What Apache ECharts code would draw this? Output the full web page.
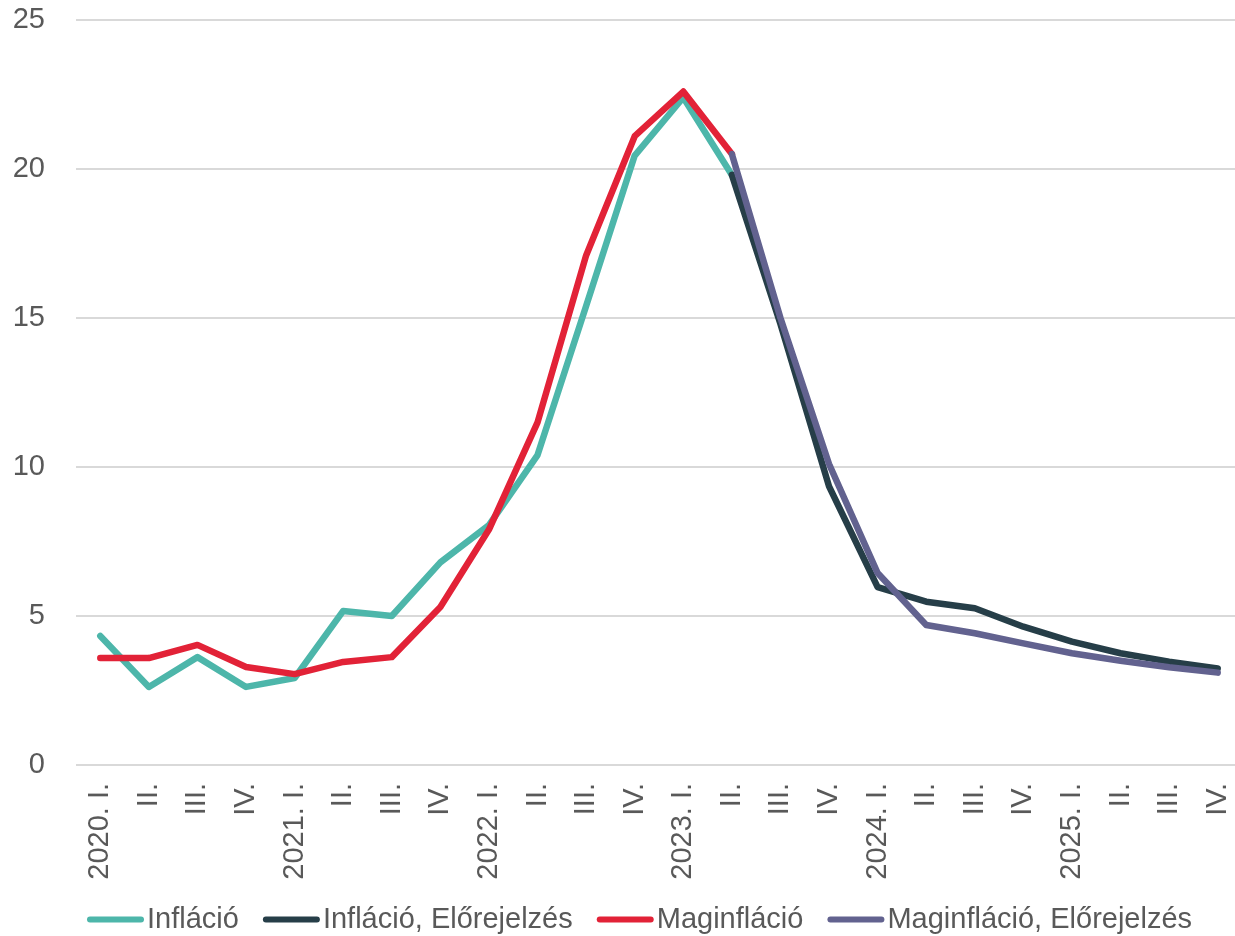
<!DOCTYPE html>
<html>
<head>
<meta charset="utf-8">
<script src="https://cdn.jsdelivr.net/npm/echarts@6/dist/echarts.min.js"></script>
<style>
  html, body { margin: 0; padding: 0; background: #ffffff; }
  #chart { width: 1235px; height: 936px; }
</style>
</head>
<body>
<div id="chart"></div>
<script>
// Quarters 2020 Q1 – 2025 Q4
const categories = [
  '2020. I.', 'II.', 'III.', 'IV.',
  '2021. I.', 'II.', 'III.', 'IV.',
  '2022. I.', 'II.', 'III.', 'IV.',
  '2023. I.', 'II.', 'III.', 'IV.',
  '2024. I.', 'II.', 'III.', 'IV.',
  '2025. I.', 'II.', 'III.', 'IV.'
];

// Headline inflation (actual), %
const inflacio = [4.33, 2.62, 3.62, 2.62, 2.92, 5.17, 5.0, 6.8, 8.05, 10.4, 15.4, 20.45, 22.4, 19.8,
  null, null, null, null, null, null, null, null, null, null];

// Headline inflation forecast, %
const inflacioElorejelzes = [null, null, null, null, null, null, null, null, null, null, null, null, null,
  19.8, 14.8, 9.35, 5.97, 5.48, 5.26, 4.64, 4.14, 3.75, 3.47, 3.24];

// Core inflation (actual), %
const maginflacio = [3.59, 3.59, 4.03, 3.29, 3.05, 3.46, 3.62, 5.3, 7.9, 11.5, 17.1, 21.1, 22.6, 20.5,
  null, null, null, null, null, null, null, null, null, null];

// Core inflation forecast, %
const maginflacioElorejelzes = [null, null, null, null, null, null, null, null, null, null, null, null, null,
  20.5, 15.0, 10.1, 6.44, 4.70, 4.42, 4.08, 3.75, 3.50, 3.28, 3.10];

const yTicks = { min: 0, max: 25, interval: 5 };

const FONT = '"Liberation Sans", Arial, sans-serif';
const TEXT = '#595959';

function lineSeries(name, data, color) {
  return {
    name: name,
    type: 'line',
    data: data,
    symbol: 'none',
    showSymbol: false,
    connectNulls: false,
    color: color,
    lineStyle: { width: 6.5, color: color, cap: 'round', join: 'round' },
    emphasis: { disabled: true },
    animation: false
  };
}

const chart = echarts.init(document.getElementById('chart'), null, { renderer: 'canvas' });

chart.setOption({
  backgroundColor: '#ffffff',
  animation: false,
  grid: {
    left: 76, width: 1166, top: 20, bottom: 171,
    containLabel: false, outerBoundsMode: 'none'
  },
  xAxis: {
    type: 'category',
    data: categories,
    boundaryGap: true,
    axisLine: { show: false },
    axisTick: { show: false },
    axisLabel: {
      rotate: 90,
      interval: 0,
      margin: 18,
      color: TEXT,
      fontFamily: FONT,
      fontSize: 29
    }
  },
  yAxis: {
    type: 'value',
    min: yTicks.min,
    max: yTicks.max,
    interval: yTicks.interval,
    axisLine: { show: false },
    axisTick: { show: false },
    axisLabel: {
      margin: 31,
      color: TEXT,
      fontFamily: FONT,
      fontSize: 29
    },
    splitLine: { lineStyle: { color: '#d9d9d9', width: 2 } }
  },
  legend: {
    left: 82,
    bottom: -3,
    itemWidth: 57,
    itemHeight: 7,
    itemGap: 24,
    icon: 'path://M3,0 L54,0 A3,3 0 0 1 54,6 L3,6 A3,3 0 0 1 3,0 Z',
    textStyle: { color: TEXT, fontFamily: FONT, fontSize: 29, padding: [0, 0, 0, -2] },
    data: ['Infláció', 'Infláció, Előrejelzés', 'Maginfláció', 'Maginfláció, Előrejelzés']
  },
  series: [
    lineSeries('Infláció', inflacio, '#4DB6AA'),
    lineSeries('Infláció, Előrejelzés', inflacioElorejelzes, '#263E48'),
    lineSeries('Maginfláció', maginflacio, '#E22237'),
    lineSeries('Maginfláció, Előrejelzés', maginflacioElorejelzes, '#62628F')
  ]
});
</script>
</body>
</html>
